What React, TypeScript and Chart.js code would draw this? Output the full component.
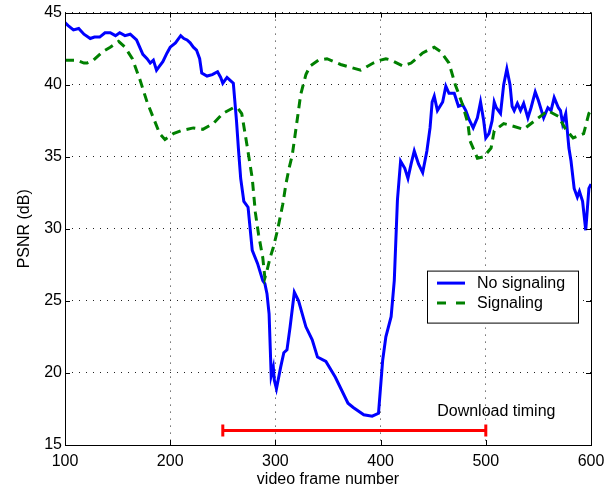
import React, { useEffect, useRef } from "react";
import { Chart, registerables } from "chart.js";

Chart.register(...registerables);

const noSigX = [100,103,108,113,118,124,128,133,138,143,148,152,157,162,168,174,178,181,184,187,190,193,197,200,205,210,213,216,219,222,225,228,230,235,240,245,248,250,254,257,260,263,265,267,270,274,278,283,288,290,292,294,296,298,299,301,305,308,311,314,318,322,329,335,340,348,357,369,374,384,392,398,402,405,410,413,416,419,423,426,429,432,436,440,444,447,449,451,454,459,462,465,470,474,478,481,484,488,492,495,498,500,503,506,508,510,514,517,520,523,525,527,530,533,536,540,543,547,550,555,559,562,565,569,571,573,576,579,581,584,587,589,592,595,598,600];
const noSigY = [44.3,44.1,43.8,43.9,43.5,43.2,43.3,43.3,43.6,43.6,43.4,43.6,43.4,43.5,43.1,42.1,41.8,41.5,41.7,41.0,41.3,41.6,42.2,42.6,42.9,43.4,43.2,43.1,42.9,42.6,42.4,41.8,40.8,40.6,40.7,40.9,40.5,40.1,40.5,40.3,40.1,37.5,35.4,33.5,31.9,31.5,28.5,27.6,26.4,26.2,25.5,24.1,19.8,20.4,19.5,18.9,20.4,21.4,21.6,23.2,25.6,25.0,23.2,22.3,21.1,20.8,19.7,17.9,17.6,17.1,17.0,17.2,20.9,22.5,23.9,26.4,32.0,34.7,34.2,33.5,34.5,35.4,34.5,33.9,35.4,37.0,38.8,39.2,38.2,38.8,39.9,39.4,39.4,38.5,38.6,38.2,37.6,37.0,37.7,38.8,37.5,36.3,36.6,37.5,38.8,38.4,38.0,40.0,41.1,40.0,38.5,38.2,38.7,38.2,38.7,37.7,38.4,39.5,38.9,37.7,38.4,38.2,39.1,38.4,38.2,37.3,38.0,35.6,34.7,32.8,32.2,32.6,31.9,29.9,32.8,33.1];

const sigX = [100,111,118,121,127,136,143,151,157,164,171,178,184,190,195,203,210,222,231,241,250,260,264,268,273,278,281,284,288,290,292,295,298,302,307,310,313,316,321,324,329,333,341,349,362,381,393,400,405,410,421,429,440,451,457,465,471,478,483,485,492,498,505,508,517,527,536,550,559,569,576,583,593,598,600];
const sigY = [41.7,41.7,41.5,41.5,41.7,42.3,42.6,43.0,42.6,41.8,40.4,38.8,37.7,36.6,36.2,36.6,36.8,37.0,36.9,37.3,38.0,38.4,38.4,38.0,35.8,33.5,31.1,29.6,28.0,26.6,27.1,28.0,28.7,29.9,31.7,33.1,34.2,35.1,37.7,39.3,40.7,41.3,41.7,41.8,41.4,41.0,41.5,41.7,41.8,41.7,41.3,41.5,42.2,42.6,42.3,41.5,40.0,38.6,37.3,36.1,34.9,35.0,35.6,36.8,37.3,37.1,36.9,37.7,38.2,37.8,36.9,36.3,36.6,38.0,38.2];

const downloadX = [250, 500];
const downloadY = [16, 16];
const downloadLabel = "Download timing";
const downloadLabelPos = { x: 510, y: 17.35 };

const xTicks = [100, 200, 300, 400, 500, 600];
const yTicks = [15, 20, 25, 30, 35, 40, 45];
const seriesNames = ["No signaling", "Signaling"];

const FONT = "'Liberation Sans', Arial, Helvetica, sans-serif";

const framePlugin = {
  id: "framePlugin",
  afterDraw(chart: any) {
    const { ctx, chartArea: a, scales } = chart;
    const xs = scales.x;
    const ys = scales.y;
    ctx.save();
    // border
    ctx.strokeStyle = "#000";
    ctx.lineWidth = 1;
    ctx.setLineDash([]);
    ctx.strokeRect(Math.round(a.left) + 0.5, Math.round(a.top) + 0.5, Math.round(a.right - a.left), Math.round(a.bottom - a.top));
    // inward ticks
    const tl = 5;
    ctx.beginPath();
    xTicks.forEach((v) => {
      const px = Math.round(xs.getPixelForValue(v)) + 0.5;
      ctx.moveTo(px, a.bottom);
      ctx.lineTo(px, a.bottom - tl);
      ctx.moveTo(px, a.top);
      ctx.lineTo(px, a.top + tl);
    });
    yTicks.forEach((v) => {
      const py = Math.round(ys.getPixelForValue(v)) + 0.5;
      ctx.moveTo(a.left, py);
      ctx.lineTo(a.left + tl, py);
      ctx.moveTo(a.right, py);
      ctx.lineTo(a.right - tl, py);
    });
    ctx.stroke();

    // download label
    ctx.fillStyle = "#000";
    ctx.font = `16px ${FONT}`;
    ctx.textAlign = "center";
    ctx.textBaseline = "middle";
    ctx.fillText(downloadLabel, xs.getPixelForValue(downloadLabelPos.x), ys.getPixelForValue(downloadLabelPos.y));

    // legend
    const bx = a.right - 164;
    const by = a.top + 258;
    const bw = 151;
    const bh = 52;
    ctx.fillStyle = "#fff";
    ctx.fillRect(bx, by, bw, bh);
    ctx.strokeStyle = "#000";
    ctx.lineWidth = 1;
    ctx.strokeRect(bx + 0.5, by + 0.5, bw, bh);
    const y1 = by + 12.5;
    const y2 = by + 32.5;
    ctx.lineWidth = 3;
    ctx.strokeStyle = "#0000ff";
    ctx.beginPath();
    ctx.moveTo(bx + 10, y1);
    ctx.lineTo(bx + 38, y1);
    ctx.stroke();
    ctx.strokeStyle = "#008000";
    ctx.setLineDash([9, 10]);
    ctx.beginPath();
    ctx.moveTo(bx + 10, y2);
    ctx.lineTo(bx + 38, y2);
    ctx.stroke();
    ctx.setLineDash([]);
    ctx.fillStyle = "#000";
    ctx.textAlign = "left";
    ctx.textBaseline = "middle";
    ctx.fillText(seriesNames[0], bx + 50, y1);
    ctx.fillText(seriesNames[1], bx + 50, y2);
    ctx.restore();
  },
};

export default function App() {
  const ref = useRef<HTMLCanvasElement | null>(null);
  useEffect(() => {
    if (!ref.current) return;
    Chart.defaults.font.family = FONT;
    Chart.defaults.color = "#000";
    const chart = new Chart(ref.current, {
      type: "line",
      data: {
        datasets: [
          {
            label: seriesNames[0],
            data: noSigX.map((x, i) => ({ x, y: noSigY[i] })),
            borderColor: "#0000ff",
            borderWidth: 3,
            pointRadius: 0,
            tension: 0,
            order: 2,
          },
          {
            label: seriesNames[1],
            data: sigX.map((x, i) => ({ x, y: sigY[i] })),
            borderColor: "#008000",
            borderWidth: 3,
            borderDash: [9, 6],
            pointRadius: 0,
            tension: 0,
            order: 1,
          },
          {
            label: downloadLabel,
            data: downloadX.map((x, i) => ({ x, y: downloadY[i] })),
            borderColor: "#ff0000",
            borderWidth: 3,
            pointStyle: "line",
            pointRotation: 90,
            pointRadius: 6,
            pointBorderWidth: 3,
            pointBorderColor: "#ff0000",
            tension: 0,
            order: 0,
          },
        ] as any,
      },
      options: {
        animation: false,
        responsive: false,
        events: [],
        layout: { padding: { left: 0, top: 11, right: 22, bottom: 0 } },
        plugins: { legend: { display: false }, tooltip: { enabled: false } },
        scales: {
          x: {
            type: "linear",
            min: 100,
            max: 600,
            afterBuildTicks: (s: any) => {
              s.ticks = xTicks.map((v) => ({ value: v }));
            },
            afterFit: (s: any) => {
              s.height = 46;
            },
            ticks: { padding: 7, font: { size: 16 }, color: "#000", maxRotation: 0, autoSkip: false },
            grid: { color: "#222", lineWidth: 1, drawTicks: false, tickLength: 0 },
            border: { display: false, dash: [1, 6] },
            title: { display: true, text: "video frame number", font: { size: 16 }, color: "#000", padding: { top: 0, bottom: 2 } },
          },
          y: {
            type: "linear",
            min: 15,
            max: 45,
            afterBuildTicks: (s: any) => {
              s.ticks = yTicks.map((v) => ({ value: v }));
            },
            afterFit: (s: any) => {
              s.width = 65;
            },
            ticks: { padding: 3, font: { size: 16 }, color: "#000", autoSkip: false },
            grid: { color: "#222", lineWidth: 1, drawTicks: false, tickLength: 0 },
            border: { display: false, dash: [1, 6] },
            title: { display: true, text: "PSNR (dB)", font: { size: 16 }, color: "#000", padding: { top: 15, bottom: 0 } },
          },
        },
      } as any,
      plugins: [framePlugin],
    });
    return () => chart.destroy();
  }, []);
  return (
    <div style={{ position: "absolute", left: 0, top: 0, width: 613, height: 491, background: "#fff" }}>
      <canvas ref={ref} width={613} height={491} style={{ display: "block", width: 613, height: 491 }} />
    </div>
  );
}
